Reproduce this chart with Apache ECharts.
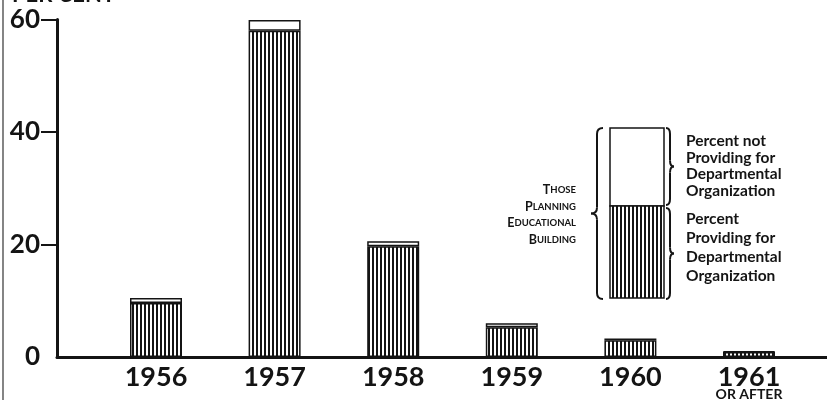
<!DOCTYPE html>
<html>
<head>
<meta charset="utf-8">
<script src="https://cdn.jsdelivr.net/npm/echarts@6/dist/echarts.min.js"></script>
<style>
  html, body { margin: 0; padding: 0; background: #fff; }
  #chart { width: 827px; height: 400px; }
</style>
</head>
<body>
<div id="chart"></div>
<script>
// years on the x axis
var years = ['1956', '1957', '1958', '1959', '1960', '1961']
// percent providing for departmental organization (hatched part)
var providing = [9.6, 58.0, 19.7, 5.3, 3.0, 0.9]
// percent not providing (white cap on top)
var notProviding = [0.9, 1.9, 0.9, 0.7, 0.3, 0.1]
var yTicks = [0, 20, 40, 60]

var ink = '#141414'
var font = 'Lato'

// vertical hatching used for the "providing" part
function hatch () {
  var c = document.createElement('canvas')
  c.width = 4
  c.height = 4
  var ctx = c.getContext('2d')
  ctx.fillStyle = '#fff'
  ctx.fillRect(0, 0, 4, 4)
  ctx.fillStyle = ink
  ctx.fillRect(0, 0, 2, 4)
  return { image: c, repeat: 'repeat' }
}
var hatchFill = hatch()

// curly brace made of lines and quadratic curves, dir -1 = tip on the left
function brace (x0, y0, y1, w, dir) {
  var r = 6
  var ym = (y0 + y1) / 2
  var xm = x0 + dir * w / 2
  var xt = x0 + dir * w
  var st = { stroke: ink, lineWidth: 2, fill: null }
  return [
    { type: 'bezierCurve', shape: { x1: x0, y1: y0, x2: xm, y2: y0 + r, cpx1: xm, cpy1: y0 }, style: st },
    { type: 'line', shape: { x1: xm, y1: y0 + r, x2: xm, y2: ym - r }, style: st },
    { type: 'bezierCurve', shape: { x1: xm, y1: ym - r, x2: xt, y2: ym, cpx1: xm, cpy1: ym }, style: st },
    { type: 'bezierCurve', shape: { x1: xt, y1: ym, x2: xm, y2: ym + r, cpx1: xm, cpy1: ym }, style: st },
    { type: 'line', shape: { x1: xm, y1: ym + r, x2: xm, y2: y1 - r }, style: st },
    { type: 'bezierCurve', shape: { x1: xm, y1: y1 - r, x2: x0, y2: y1, cpx1: xm, cpy1: y1 }, style: st }
  ]
}

var graphics = [
  // frame line on the left edge
  { type: 'line', shape: { x1: 3, y1: 0, x2: 3, y2: 400 }, style: { stroke: '#333', lineWidth: 1.2 } },
  // title, cut off at the top
  { type: 'text', x: 12, y: -16, style: { text: 'PER CENT', font: 'bold 22px ' + font, fill: ink } },
  // key box
  { type: 'rect', shape: { x: 610, y: 128, width: 54, height: 78 }, style: { fill: '#fff', stroke: ink, lineWidth: 1.5 } },
  { type: 'rect', shape: { x: 610, y: 206, width: 54, height: 92 }, style: { fill: hatchFill, stroke: ink, lineWidth: 1.5 } },
  {
    type: 'text', x: 576, y: 215,
    style: {
      text: '{c|T}{s|HOSE}\n{c|P}{s|LANNING}\n{c|E}{s|DUCATIONAL}\n{c|B}{s|UILDING}',
      align: 'right', verticalAlign: 'middle', lineHeight: 16.5, fill: ink,
      rich: {
        c: { fontFamily: font, fontWeight: 'bold', fontSize: 12.5, fill: ink, lineHeight: 16.5 },
        s: { fontFamily: font, fontWeight: 'bold', fontSize: 9.5, fill: ink, lineHeight: 16.5 }
      }
    }
  },
  {
    type: 'text', x: 686, y: 166,
    style: {
      text: 'Percent not\nProviding for\nDepartmental\nOrganization',
      font: 'bold 15.5px ' + font, lineHeight: 16.5, align: 'left', verticalAlign: 'middle', fill: ink
    }
  },
  {
    type: 'text', x: 686, y: 247,
    style: {
      text: 'Percent\nProviding for\nDepartmental\nOrganization',
      font: 'bold 15.5px ' + font, lineHeight: 19, align: 'left', verticalAlign: 'middle', fill: ink
    }
  }
].concat(brace(603, 128, 299, 12, -1), brace(666, 128, 205, 8, 1), brace(666, 208, 299, 8, 1))

var chart = echarts.init(document.getElementById('chart'), null, { renderer: 'canvas' })
chart.setOption({
  animation: false,
  backgroundColor: '#fff',
  grid: [
    { left: 96.7, right: 18.7, top: 19.5, bottom: 43, outerBoundsMode: 'none' },
    { left: 57, right: 0, top: 19.5, bottom: 43, outerBoundsMode: 'none' }
  ],
  xAxis: [
    {
      type: 'category',
      gridIndex: 0,
      data: years,
      axisLine: { show: false },
      axisTick: { show: false },
      axisLabel: {
        interval: 0,
        margin: 9,
        color: ink,
        fontFamily: font,
        fontWeight: 'bold',
        fontSize: 27,
        lineHeight: 22,
        formatter: function (v) {
          return v === '1961' ? v + '\n{s|OR AFTER}' : v
        },
        rich: {
          s: { fontFamily: font, fontWeight: 'bold', fontSize: 14, lineHeight: 12, color: ink }
        }
      }
    },
    {
      type: 'value',
      gridIndex: 1,
      min: 0,
      max: 1,
      axisLine: { show: true, lineStyle: { color: ink, width: 3 } },
      axisTick: { show: false },
      axisLabel: { show: false },
      splitLine: { show: false }
    }
  ],
  yAxis: [
    {
      type: 'value',
      gridIndex: 0,
      min: 0,
      max: 60,
      interval: 20,
      offset: 39.7,
      axisLine: { show: true, lineStyle: { color: ink, width: 3 } },
      axisTick: { show: true, length: 16, customValues: yTicks.slice(1), lineStyle: { color: ink, width: 2 } },
      axisLabel: { margin: 17, color: ink, fontFamily: font, fontWeight: 'bold', fontSize: 26, customValues: yTicks },
      splitLine: { show: false }
    },
    {
      type: 'value',
      gridIndex: 1,
      min: 0,
      max: 1,
      show: false
    }
  ],
  series: [
    {
      name: 'Percent Providing for Departmental Organization',
      type: 'bar',
      stack: 'total',
      barWidth: 52,
      data: providing,
      itemStyle: { color: hatchFill, borderColor: ink, borderWidth: 1.5 }
    },
    {
      name: 'Percent not Providing for Departmental Organization',
      type: 'bar',
      stack: 'total',
      barWidth: 52,
      data: notProviding,
      itemStyle: { color: '#fff', borderColor: ink, borderWidth: 1.5 }
    }
  ],
  graphic: { elements: graphics }
})
</script>
</body>
</html>
